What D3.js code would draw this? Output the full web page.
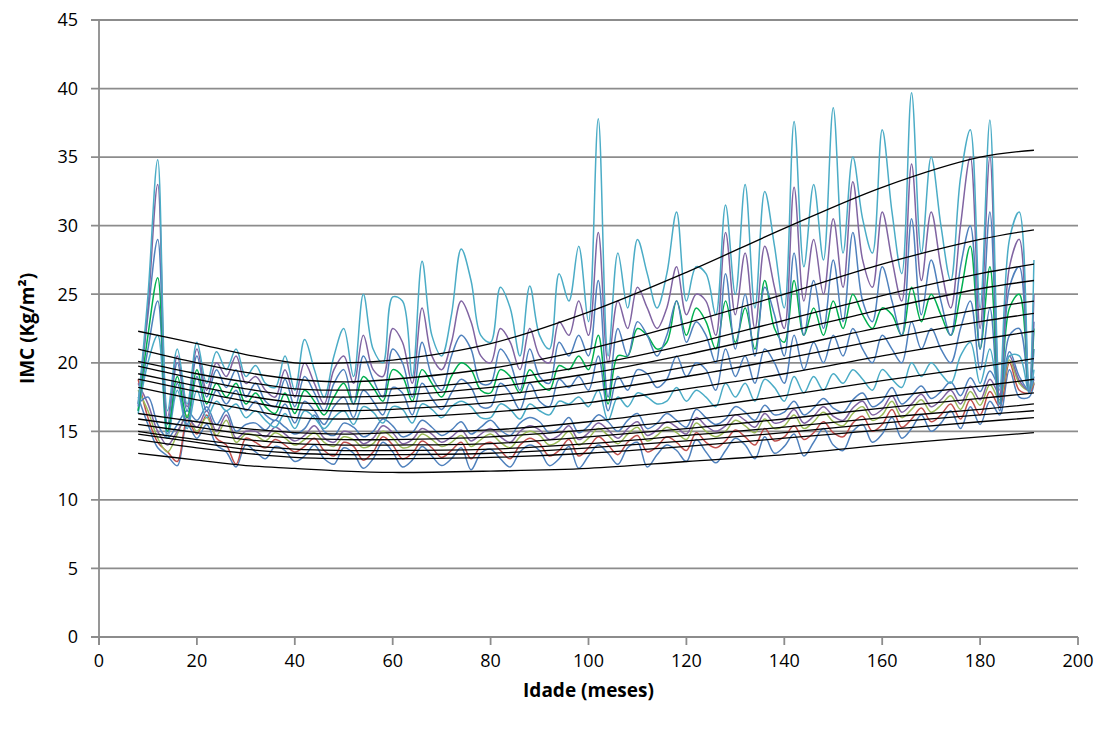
<!DOCTYPE html>
<html>
<head>
<meta charset="utf-8">
<script src="https://cdn.jsdelivr.net/npm/d3@7"></script>
<style>
  body { margin: 0; background: #fff; }
  text { font-family: "Open Sans", "Liberation Sans", sans-serif; fill: #000; }
</style>
</head>
<body>
<svg id="chart" width="1112" height="729"></svg>
<script>
// x ticks / y ticks
const xTicks = [0, 20, 40, 60, 80, 100, 120, 140, 160, 180, 200];
const yTicks = [0, 5, 10, 15, 20, 25, 30, 35, 40, 45];

// reference curves (black), read at these ages
const refAges = [8, 20, 30, 40, 50, 60, 80, 100, 120, 140, 160, 180, 191];
const ref1 = [22.3, 21.4, 20.6, 20.0, 20.0, 20.2, 21.4, 23.7, 26.6, 29.8, 32.8, 35.0, 35.5];
const ref2 = [21.0, 20.0, 19.3, 18.8, 18.6, 18.8, 19.6, 21.0, 22.9, 25.0, 27.2, 29.0, 29.7];
const ref3 = [20.1, 19.2, 18.6, 18.1, 18.0, 18.1, 18.7, 19.8, 21.3, 23.1, 24.9, 26.5, 27.2];
const ref4 = [19.75, 18.8, 18.1, 17.6, 17.5, 17.6, 18.2, 19.2, 20.6, 22.2, 23.9, 25.4, 26.0];
const ref5 = [19.2, 18.3, 17.6, 17.1, 17.0, 17.1, 17.6, 18.5, 19.7, 21.1, 22.6, 23.9, 24.5];
const ref6 = [18.8, 17.9, 17.2, 16.6, 16.5, 16.6, 17.1, 17.9, 19.0, 20.3, 21.7, 23.0, 23.6];
const ref7 = [18.2, 17.3, 16.6, 16.0, 15.9, 16.0, 16.4, 17.1, 18.1, 19.2, 20.5, 21.7, 22.3];
const ref8 = [16.3, 15.7, 15.2, 14.9, 14.8, 14.9, 15.1, 15.7, 16.6, 17.6, 18.7, 19.7, 20.3];
const ref9 = [15.9, 15.3, 14.8, 14.5, 14.4, 14.4, 14.6, 15.1, 15.8, 16.6, 17.5, 18.3, 18.8];
const ref10 = [15.5, 14.9, 14.4, 14.1, 14.0, 14.0, 14.1, 14.6, 15.2, 15.9, 16.7, 17.4, 17.8];
const ref11 = [15.0, 14.4, 14.0, 13.7, 13.6, 13.6, 13.7, 14.1, 14.7, 15.3, 16.0, 16.6, 17.0];
const ref12 = [14.8, 14.2, 13.7, 13.4, 13.3, 13.3, 13.4, 13.8, 14.3, 14.9, 15.6, 16.2, 16.5];
const ref13 = [14.4, 13.8, 13.4, 13.1, 13.0, 13.0, 13.1, 13.4, 13.9, 14.5, 15.1, 15.7, 16.0];
const ref14 = [13.4, 12.9, 12.5, 12.3, 12.1, 12.0, 12.1, 12.3, 12.8, 13.3, 14.0, 14.6, 14.9];

// observed series, ages in months
const ages = [8, 10, 12, 14, 16, 18, 20, 22, 24, 26,
  28, 30, 32, 34, 36, 38, 40, 42, 44, 46,
  48, 50, 52, 54, 56, 58, 60, 62, 64, 66,
  68, 70, 72, 74, 76, 78, 80, 82, 84, 86,
  88, 90, 92, 94, 96, 98, 100, 102, 104, 106,
  108, 110, 112, 114, 116, 118, 120, 122, 124, 126,
  128, 130, 132, 134, 136, 138, 140, 142, 144, 146,
  148, 150, 152, 154, 156, 158, 160, 162, 164, 166,
  168, 170, 172, 174, 176, 178, 180, 182, 184, 186,
  188, 190, 191];

const tealHigh = [17.0, 24.9, 34.8, 16.5, 21.0, 17.0, 21.5, 18.5, 20.8, 19.5,
  21.0, 19.0, 19.8, 18.5, 18.2, 20.5, 18.0, 21.7, 19.5, 17.5,
  20.5, 22.5, 19.0, 25.0, 21.0, 20.0, 24.8, 24.5, 19.0, 27.4,
  22.0, 20.5, 23.5, 28.3, 26.0, 22.0, 21.5, 25.5, 24.0, 20.5,
  25.6, 22.0, 21.0, 26.5, 24.5, 28.5, 23.0, 37.8, 20.5, 28.0,
  24.0, 29.0, 26.5, 24.0, 26.5, 31.0, 24.5, 27.0, 26.5, 23.5,
  31.5, 25.0, 33.0, 24.0, 32.5, 28.5, 24.0, 37.6, 27.0, 33.0,
  27.5, 38.6, 28.0, 35.0, 30.5, 28.0, 37.0, 31.0, 26.5, 39.7,
  28.0, 35.0, 30.0, 26.0, 33.5, 37.0, 24.0, 37.7, 18.0, 29.0,
  31.0, 18.0, 27.5];
const purpleHigh = [17.0, 24.0, 33.0, 16.0, 20.5, 16.8, 21.0, 18.0, 20.0, 19.0,
  20.5, 18.5, 19.0, 18.0, 17.5, 19.5, 17.5, 20.0, 18.5, 17.0,
  19.5, 20.5, 18.5, 22.0, 19.5, 19.0, 22.5, 21.5, 18.5, 24.0,
  20.5, 19.5, 21.5, 24.5, 23.0, 20.5, 20.0, 22.5, 21.5, 19.5,
  22.5, 20.5, 20.0, 23.0, 22.0, 24.5, 22.0, 29.5, 20.0, 24.5,
  22.5, 25.5, 24.0, 22.5, 24.0, 27.0, 23.5, 25.0, 24.5, 22.0,
  29.5, 23.5, 28.0, 22.5, 28.5, 25.5, 22.5, 32.8, 24.5, 29.0,
  25.0, 30.5, 25.5, 33.2, 27.5, 25.5, 31.0, 27.5, 24.5, 34.5,
  26.0, 31.0, 27.0, 24.0, 30.0, 35.0, 22.5, 35.0, 17.5, 27.0,
  29.0, 18.0, 25.0];
const blueHigh = [16.8, 23.5, 29.0, 15.5, 20.0, 16.5, 20.5, 17.5, 19.5, 18.2,
  19.5, 17.5, 18.5, 17.2, 16.8, 18.8, 16.8, 19.0, 17.8, 16.5,
  18.5, 19.5, 17.0, 20.5, 18.8, 17.5, 21.0, 20.0, 17.5, 21.5,
  19.0, 18.0, 20.5, 22.0, 21.0, 18.5, 18.5, 21.0, 20.0, 18.0,
  21.0, 19.0, 18.5, 21.5, 20.5, 22.0, 20.5, 26.0, 17.5, 22.5,
  20.5, 23.0, 22.0, 20.5, 22.0, 24.5, 21.5, 23.0, 22.0, 20.0,
  26.5, 21.0, 25.0, 20.5, 25.5, 23.5, 20.5, 28.0, 22.0, 26.0,
  22.5, 27.5, 23.0, 29.5, 24.5, 23.0, 27.0, 24.5, 22.0, 30.5,
  23.5, 27.5, 24.5, 22.0, 27.0, 30.0, 21.0, 31.0, 17.0, 25.5,
  27.0, 18.0, 23.0];
const greenHigh = [16.5, 22.0, 26.2, 15.0, 19.0, 16.0, 19.5, 17.0, 18.5, 17.5,
  18.5, 17.0, 17.8, 16.8, 16.3, 17.8, 16.3, 18.0, 17.2, 16.2,
  17.5, 18.5, 17.0, 19.0, 18.2, 17.2, 19.5, 19.0, 17.2, 19.5,
  18.5, 17.5, 19.0, 20.0, 19.5, 18.0, 17.8, 19.5, 19.0, 17.8,
  19.5, 18.5, 18.0, 19.8, 19.5, 20.5, 19.5, 22.0, 17.0, 20.5,
  20.5, 22.5, 22.0, 21.0, 21.5, 24.5, 22.0, 24.0, 23.0, 21.0,
  24.5, 21.5, 24.0, 21.0, 26.0, 22.5, 21.5, 26.0, 22.0, 24.0,
  22.0, 24.5, 22.5, 25.0, 23.5, 22.5, 24.0, 23.5, 22.0, 25.5,
  23.0, 25.0, 23.5, 22.0, 25.0, 28.5, 21.0, 27.0, 17.0, 24.0,
  25.0, 18.0, 22.5];
const blueMid = [16.5, 21.0, 24.5, 14.8, 18.5, 15.5, 19.0, 16.5, 18.0, 17.0,
  18.0, 16.5, 17.2, 16.2, 15.8, 17.0, 15.6, 17.2, 16.5, 15.5,
  16.8, 17.5, 16.0, 18.0, 17.2, 16.2, 18.2, 17.8, 16.2, 18.5,
  17.4, 16.6, 17.8, 18.8, 18.2, 16.8, 16.8, 18.5, 17.8, 16.6,
  18.5, 17.2, 16.8, 18.8, 18.2, 19.0, 18.0, 20.5, 16.5, 19.0,
  18.0, 19.5, 19.2, 18.2, 18.8, 20.5, 19.0, 20.0, 19.5, 18.0,
  21.0, 19.0, 20.5, 18.5, 21.0, 20.0, 18.5, 22.0, 19.5, 21.5,
  20.0, 22.0, 20.5, 22.5, 21.0, 20.0, 22.0, 21.0, 20.0, 23.0,
  21.0, 22.5, 21.0, 20.0, 22.5, 24.5, 19.5, 24.0, 16.5, 22.0,
  22.5, 17.8, 21.0];
const tealMid = [16.3, 20.0, 22.0, 14.5, 18.0, 15.2, 18.0, 16.0, 17.2, 16.5,
  17.0, 16.0, 16.5, 15.8, 15.3, 16.3, 15.2, 16.5, 16.0, 15.2,
  16.0, 16.5, 15.5, 16.8, 16.4, 15.6, 16.8, 16.6, 15.6, 17.0,
  16.6, 16.0, 16.8, 17.2, 16.8, 16.0, 16.0, 17.0, 16.6, 15.9,
  17.0, 16.5, 16.2, 17.2, 17.0, 17.5, 16.8, 18.0, 15.8, 17.5,
  16.8, 17.8, 17.5, 17.0, 17.2, 18.2, 17.2, 18.0, 17.5, 16.8,
  18.5, 17.5, 18.5, 17.2, 18.8, 18.2, 17.2, 19.0, 17.8, 19.0,
  18.0, 19.2, 18.5, 19.5, 18.8, 18.0, 19.5, 18.8, 18.2, 20.0,
  19.0, 20.0, 19.2, 18.5, 20.5, 21.5, 18.5, 21.0, 17.5, 20.5,
  20.5, 17.8, 19.5];
const blueLowTop = [17.0, 17.5, 15.5, 14.5, 15.5, 16.5, 15.8, 16.8, 15.5, 16.5,
  15.0, 15.5, 15.6, 15.1, 15.8, 15.3, 14.8, 15.2, 16.2, 15.0,
  14.7, 15.6, 15.3, 14.6, 15.0, 15.9, 15.4, 14.6, 14.9, 15.8,
  15.3, 14.7, 15.1, 15.7, 14.8, 15.3, 15.8, 15.1, 14.7, 15.6,
  16.0, 15.7, 14.9, 15.2, 16.0, 14.9, 15.4, 16.2, 15.7, 15.0,
  15.8, 16.3, 15.2, 15.6, 16.3, 15.8, 15.3, 16.6, 16.0, 15.5,
  15.9, 16.8, 16.4, 15.8, 16.9, 16.2, 16.4, 17.2, 16.2, 16.7,
  17.4, 16.7, 16.4, 17.3, 17.8, 16.8, 17.2, 18.2, 17.0, 17.6,
  18.3, 17.4, 17.9, 18.6, 17.6, 18.9, 17.9, 19.4, 18.3, 20.8,
  19.0, 18.0, 19.0];
const purpleLow = [18.5, 17.0, 15.0, 14.0, 15.0, 16.0, 15.3, 16.5, 15.0, 16.2,
  14.5, 15.0, 15.0, 14.6, 15.3, 14.8, 14.3, 14.7, 15.4, 14.5,
  14.2, 15.0, 14.8, 14.1, 14.5, 15.4, 14.9, 14.1, 14.4, 15.2,
  14.8, 14.2, 14.6, 15.1, 14.3, 14.8, 15.2, 14.6, 14.2, 15.0,
  15.4, 15.1, 14.4, 14.7, 15.4, 14.4, 14.9, 15.6, 15.1, 14.5,
  15.2, 15.7, 14.7, 15.1, 15.7, 15.3, 14.8, 16.0, 15.4, 15.0,
  15.4, 16.2, 15.8, 15.3, 16.3, 15.6, 15.8, 16.6, 15.6, 16.1,
  16.8, 16.1, 15.8, 16.7, 17.2, 16.2, 16.6, 17.6, 16.4, 17.0,
  17.7, 16.8, 17.3, 18.0, 17.0, 18.3, 17.3, 18.8, 17.7, 20.5,
  18.7, 18.0, 18.8];
const oliveLow = [18.0, 16.5, 14.5, 13.5, 14.8, 16.2, 15.0, 16.0, 14.7, 15.8,
  14.2, 14.8, 14.7, 14.3, 14.9, 14.5, 14.0, 14.4, 14.9, 14.2,
  13.9, 14.6, 14.4, 13.8, 14.1, 15.0, 14.5, 13.8, 14.0, 14.8,
  14.4, 13.9, 14.2, 14.7, 13.9, 14.4, 14.8, 14.2, 13.8, 14.6,
  15.0, 14.7, 14.0, 14.3, 15.0, 14.0, 14.5, 15.2, 14.7, 14.1,
  14.8, 15.3, 14.3, 14.7, 15.3, 14.9, 14.4, 15.6, 15.0, 14.6,
  15.0, 15.8, 15.4, 14.9, 15.9, 15.2, 15.4, 16.2, 15.2, 15.7,
  16.4, 15.7, 15.4, 16.3, 16.8, 15.8, 16.2, 17.2, 16.0, 16.6,
  17.3, 16.4, 16.9, 17.6, 16.6, 17.9, 16.9, 18.4, 17.3, 20.2,
  18.5, 18.0, 18.6];
const redLow = [18.8, 16.0, 14.2, 13.5, 12.8, 15.8, 14.8, 16.2, 14.5, 14.0,
  12.6, 14.5, 14.2, 13.8, 14.4, 14.0, 13.5, 13.9, 14.5, 13.6,
  13.2, 14.2, 13.9, 12.9, 13.5, 14.6, 14.0, 13.0, 13.4, 14.3,
  13.8, 13.1, 13.6, 14.2, 13.0, 13.9, 14.2, 13.6, 13.0, 14.0,
  14.5, 14.1, 13.2, 13.6, 14.4, 13.2, 13.8, 14.6, 14.0, 13.3,
  14.2, 14.7, 13.5, 13.9, 14.6, 14.2, 13.6, 14.9, 14.2, 13.8,
  14.3, 15.1, 14.6, 14.0, 15.2, 14.3, 14.6, 15.4, 14.4, 14.9,
  15.7, 14.9, 14.6, 15.6, 16.1, 15.0, 15.5, 16.6, 15.3, 15.9,
  16.7, 15.7, 16.2, 17.0, 15.9, 17.3, 16.2, 17.9, 16.8, 20.0,
  18.0, 17.8, 18.5];
const blueLow = [17.5, 15.5, 13.8, 13.2, 12.5, 15.5, 14.5, 15.5, 14.0, 13.5,
  12.4, 14.0, 13.5, 13.0, 13.9, 13.6, 12.8, 13.2, 14.0, 13.0,
  12.6, 13.8, 13.4, 12.3, 13.0, 14.2, 13.5, 12.4, 12.9, 13.9,
  13.2, 12.5, 13.0, 13.8, 12.2, 13.4, 13.7, 13.0, 12.4, 13.5,
  14.0, 13.6, 12.5, 13.0, 13.9, 12.3, 13.2, 14.0, 13.4, 12.6,
  13.8, 14.2, 12.4, 13.3, 14.0, 13.6, 12.8, 14.4, 13.5, 12.7,
  13.6, 14.5, 14.0, 13.0, 14.6, 13.4, 13.9, 14.8, 13.2, 14.2,
  15.2, 14.0, 13.6, 15.0, 15.5, 14.2, 14.8, 16.0, 14.5, 15.2,
  16.2, 15.0, 15.6, 16.5, 15.2, 16.8, 15.5, 17.2, 16.2, 19.5,
  17.5, 17.5, 18.5];

const refCurves = [ref1, ref2, ref3, ref4, ref5, ref6, ref7, ref8, ref9, ref10, ref11, ref12, ref13, ref14];
// drawn bottom to top
const observed = [
  { vals: blueLow, color: '#4F81BD' },
  { vals: redLow, color: '#C0504D' },
  { vals: oliveLow, color: '#9BBB59' },
  { vals: purpleLow, color: '#8064A2' },
  { vals: blueLowTop, color: '#4F81BD' },
  { vals: tealMid, color: '#4BACC6' },
  { vals: blueMid, color: '#4F81BD' },
  { vals: greenHigh, color: '#00B050' },
  { vals: blueHigh, color: '#4F81BD' },
  { vals: purpleHigh, color: '#8064A2' },
  { vals: tealHigh, color: '#4BACC6' }
];

const svg = d3.select('#chart');
const plotLeft = 99, plotRight = 1078, plotTop = 20, plotBottom = 637;

const x = d3.scaleLinear().domain([0, 200]).range([plotLeft, plotRight]);
const y = d3.scaleLinear().domain([0, 45]).range([plotBottom, plotTop]);

// gridlines
svg.append('g')
  .selectAll('line')
  .data(yTicks)
  .enter().append('line')
    .attr('x1', plotLeft - 8)
    .attr('x2', plotRight)
    .attr('y1', d => y(d))
    .attr('y2', d => y(d))
    .attr('stroke', '#8c8c8c')
    .attr('stroke-width', 1.8);

// y axis line
svg.append('line')
  .attr('x1', plotLeft).attr('x2', plotLeft)
  .attr('y1', plotTop).attr('y2', plotBottom + 8)
  .attr('stroke', '#8c8c8c')
  .attr('stroke-width', 1.8);

// x ticks
svg.append('g')
  .selectAll('line')
  .data(xTicks)
  .enter().append('line')
    .attr('x1', d => x(d)).attr('x2', d => x(d))
    .attr('y1', plotBottom).attr('y2', plotBottom + 8)
    .attr('stroke', '#8c8c8c')
    .attr('stroke-width', 1.8);

svg.append('g')
  .selectAll('text')
  .data(yTicks)
  .enter().append('text')
    .attr('x', plotLeft - 21)
    .attr('y', d => y(d))
    .attr('dy', '0.35em')
    .attr('text-anchor', 'end')
    .style('font-size', '18px')
    .text(d => d);

svg.append('g')
  .selectAll('text')
  .data(xTicks)
  .enter().append('text')
    .attr('x', d => x(d))
    .attr('y', plotBottom + 30)
    .attr('text-anchor', 'middle')
    .style('font-size', '18px')
    .text(d => d);

svg.append('text')
  .attr('x', (plotLeft + plotRight) / 2)
  .attr('y', 697)
  .attr('text-anchor', 'middle')
  .style('font-size', '19px')
  .style('font-weight', 'bold')
  .text('Idade (meses)');

svg.append('text')
  .attr('transform', `translate(34,${(plotTop + plotBottom) / 2}) rotate(-90)`)
  .attr('text-anchor', 'middle')
  .style('font-size', '19px')
  .style('font-weight', 'bold')
  .text('IMC (Kg/m²)');

const line = d3.line()
  .x(d => x(d[0]))
  .y(d => y(d[1]))
  .curve(d3.curveCatmullRom.alpha(0.5));

// observed
let plot = svg.append('g');
observed.forEach(s => {
  plot.append('path')
    .datum(ages.map((a, i) => [a, s.vals[i]]))
    .attr('fill', 'none')
    .attr('stroke', s.color)
    .attr('stroke-width', 1.5)
    .attr('d', line);
});

// reference curves
refCurves.forEach(c => {
  plot.append('path')
    .datum(refAges.map((a, i) => [a, c[i]]))
    .attr('fill', 'none')
    .attr('stroke', '#000')
    .attr('stroke-width', 1.3)
    .attr('d', line);
});
</script>
</body>
</html>
